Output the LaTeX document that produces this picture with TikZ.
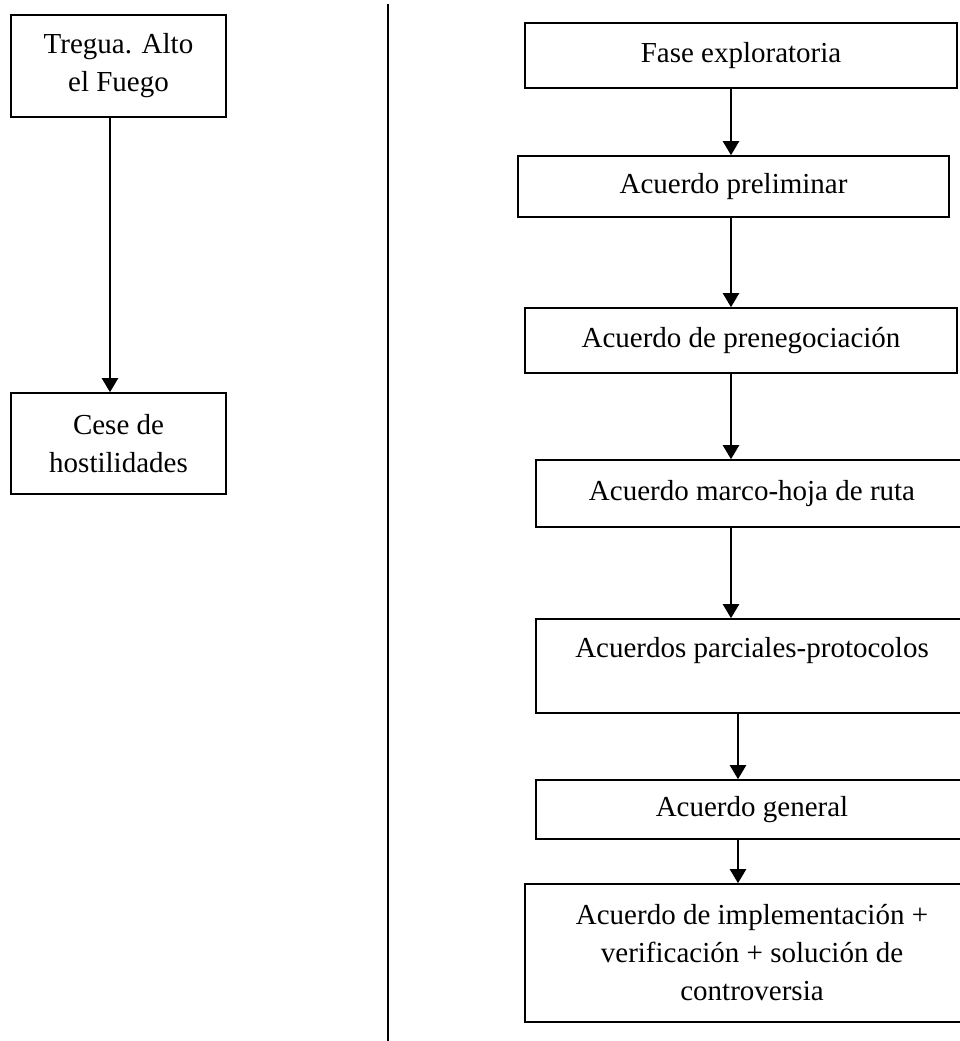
\documentclass[tikz,border=0pt]{standalone}
\usepackage{fontspec}
\setmainfont{Liberation Serif}
\usetikzlibrary{arrows.meta}
\begin{document}
\begin{tikzpicture}[x=1pt,y=-1pt,
  box/.style={draw=black,line width=1.6pt,inner sep=0pt,align=center,
    font={\fontsize{29}{38}\selectfont}},
  arr/.style={line width=2.2pt,-{Triangle[length=14pt,width=16pt]}},
  divider/.style={line width=2pt}]
\clip (0,0) rectangle (960,1041);
\fill[white] (0,0) rectangle (960,1041);
% left column
\node[box,minimum width=215pt,minimum height=102pt] (tregua) at (118.5,66) {Tregua. Alto\\el Fuego};
\node[box,minimum width=215pt,minimum height=101pt] (cese) at (118.5,443.5) {Cese de\\hostilidades};
% divider
\coordinate (dtop) at (388,4);
\coordinate (dbot) at (388,1041);
\draw[divider] (dtop) -- (dbot);
% right column
\node[box,minimum width=432pt,minimum height=65pt] (fase) at (741,55.5) {Fase exploratoria};
\node[box,minimum width=431pt,minimum height=61pt] (prelim) at (733.5,186.5) {Acuerdo preliminar};
\node[box,minimum width=432pt,minimum height=65pt] (preneg) at (741,340.5) {Acuerdo de prenegociación};
\node[box,minimum width=432pt,minimum height=67pt] (marco) at (752,493.5) {Acuerdo marco-hoja de ruta};
\node[box,minimum width=432pt,minimum height=94pt] (parc) at (752,666) {Acuerdos parciales-protocolos\\\mbox{}};
\node[box,minimum width=432pt,minimum height=59pt] (gen) at (752,809.5) {Acuerdo general};
\node[box,minimum width=454pt,minimum height=138pt] (impl) at (752,953) {Acuerdo de implementación +\\verificación + solución de\\controversia};
% arrow columns
\coordinate (xa) at (110,0);
\coordinate (xb) at (731,0);
\coordinate (xc) at (738,0);
\draw[arr] (tregua.south -| xa) -- (cese.north -| xa);
\draw[arr] (fase.south -| xb) -- (prelim.north -| xb);
\draw[arr] (prelim.south -| xb) -- (preneg.north -| xb);
\draw[arr] (preneg.south -| xb) -- (marco.north -| xb);
\draw[arr] (marco.south -| xb) -- (parc.north -| xb);
\draw[arr] (parc.south -| xc) -- (gen.north -| xc);
\draw[arr] (gen.south -| xc) -- (impl.north -| xc);
\end{tikzpicture}
\end{document}
